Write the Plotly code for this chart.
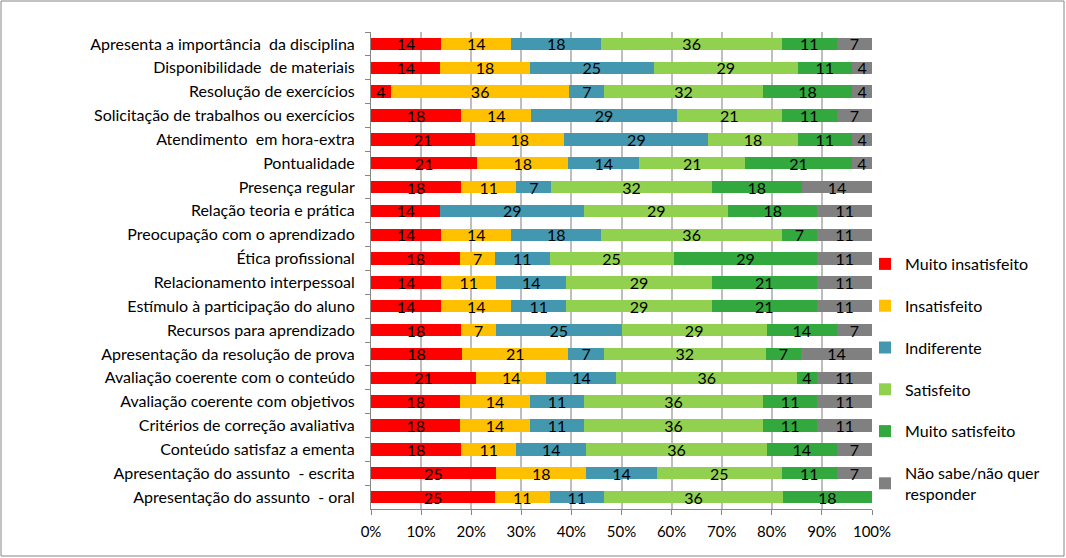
import plotly.graph_objects as go

categories = [
    "Apresenta a importância  da disciplina",
    "Disponibilidade  de materiais",
    "Resolução de exercícios",
    "Solicitação de trabalhos ou exercícios",
    "Atendimento  em hora-extra",
    "Pontualidade",
    "Presença regular",
    "Relação teoria e prática",
    "Preocupação com o aprendizado",
    "Ética profissional",
    "Relacionamento interpessoal",
    "Estímulo à participação do aluno",
    "Recursos para aprendizado",
    "Apresentação da resolução de prova",
    "Avaliação coerente com o conteúdo",
    "Avaliação coerente com objetivos",
    "Critérios de correção avaliativa",
    "Conteúdo satisfaz a ementa",
    "Apresentação do assunto  - escrita",
    "Apresentação do assunto  - oral",
]

muito_insatisfeito = [14, 14, 4, 18, 21, 21, 18, 14, 14, 18, 14, 14, 18, 18, 21, 18, 18, 18, 25, 25]
insatisfeito       = [14, 18, 36, 14, 18, 18, 11, 0, 14, 7, 11, 14, 7, 21, 14, 14, 14, 11, 18, 11]
indiferente        = [18, 25, 7, 29, 29, 14, 7, 29, 18, 11, 14, 11, 25, 7, 14, 11, 11, 14, 14, 11]
satisfeito         = [36, 29, 32, 21, 18, 21, 32, 29, 36, 25, 29, 29, 29, 32, 36, 36, 36, 36, 25, 36]
muito_satisfeito   = [11, 11, 18, 11, 11, 21, 18, 18, 7, 29, 21, 21, 14, 7, 4, 11, 11, 14, 11, 18]
nao_sabe           = [7, 4, 4, 7, 4, 4, 14, 11, 11, 11, 11, 11, 7, 14, 11, 11, 11, 7, 7, 0]

series_names = ["Muito insatisfeito", "Insatisfeito", "Indiferente", "Satisfeito",
                "Muito satisfeito", "Não sabe/não quer<br>responder"]
series_values = [muito_insatisfeito, insatisfeito, indiferente, satisfeito, muito_satisfeito, nao_sabe]
series_colors = ["#FF0000", "#FFC000", "#4398B0", "#92D050", "#33A83E", "#808080"]

x_ticks = [0, 10, 20, 30, 40, 50, 60, 70, 80, 90, 100]
x_tick_labels = [f"{t}%" for t in x_ticks]

FONT = "Lato"

fig = go.Figure()
for i, (name, vals, col) in enumerate(zip(series_names, series_values, series_colors)):
    fig.add_trace(go.Bar(
        y=categories, x=vals, name=name, orientation="h",
        marker=dict(color=col, line=dict(width=0)),
        text=[str(v) if v else "" for v in vals],
        textposition="inside", insidetextanchor="middle", textangle=0,
        textfont=dict(family=FONT, size=16, color="black"),
        legendgroup=f"g{i}", hoverinfo="x+y+name",
    ))

W, H = 1066, 558
L, R, T, B = 371, 194, 32, 49
pw, ph = W - L - R, H - T - B

def px_x(p):
    return (p - L) / pw

def px_y(p):
    return (H - B - p) / ph

fig.update_layout(
    width=W, height=H,
    barmode="stack", barnorm="percent", bargap=0.48,
    margin=dict(l=L, r=R, t=T, b=B, pad=0),
    paper_bgcolor="white", plot_bgcolor="white",
    font=dict(family=FONT, size=16, color="black"),
    uniformtext=dict(minsize=16, mode="show"),
    legend=dict(x=px_x(865), y=px_y(247), xanchor="left", yanchor="top",
                font=dict(family=FONT, size=16, color="black"),
                tracegroupgap=18, itemwidth=30, bgcolor="rgba(0,0,0,0)"),
    xaxis=dict(range=[0, 100], tickvals=x_ticks, ticktext=x_tick_labels,
               showgrid=True, gridcolor="#BEBEBE", gridwidth=1.5,
               showline=True, linecolor="#868686", linewidth=1,
               ticks="outside", ticklen=5, tickcolor="#868686", ticklabelstandoff=4,
               tickfont=dict(family=FONT, size=15), zeroline=False, fixedrange=True),
    yaxis=dict(autorange="reversed", type="category",
               showline=True, linecolor="#868686", linewidth=1,
               ticks="outside", ticklen=5, tickcolor="#868686", tickson="boundaries",
               ticklabelstandoff=12,
               tickfont=dict(family=FONT, size=16), showgrid=False, fixedrange=True),
    shapes=[dict(type="rect", xref="paper", yref="paper",
                 x0=px_x(1), x1=px_x(W - 2), y0=px_y(H - 2), y1=px_y(1),
                 line=dict(color="#868686", width=1), fillcolor="rgba(0,0,0,0)", layer="below")],
)

fig.write_html("out.html")
